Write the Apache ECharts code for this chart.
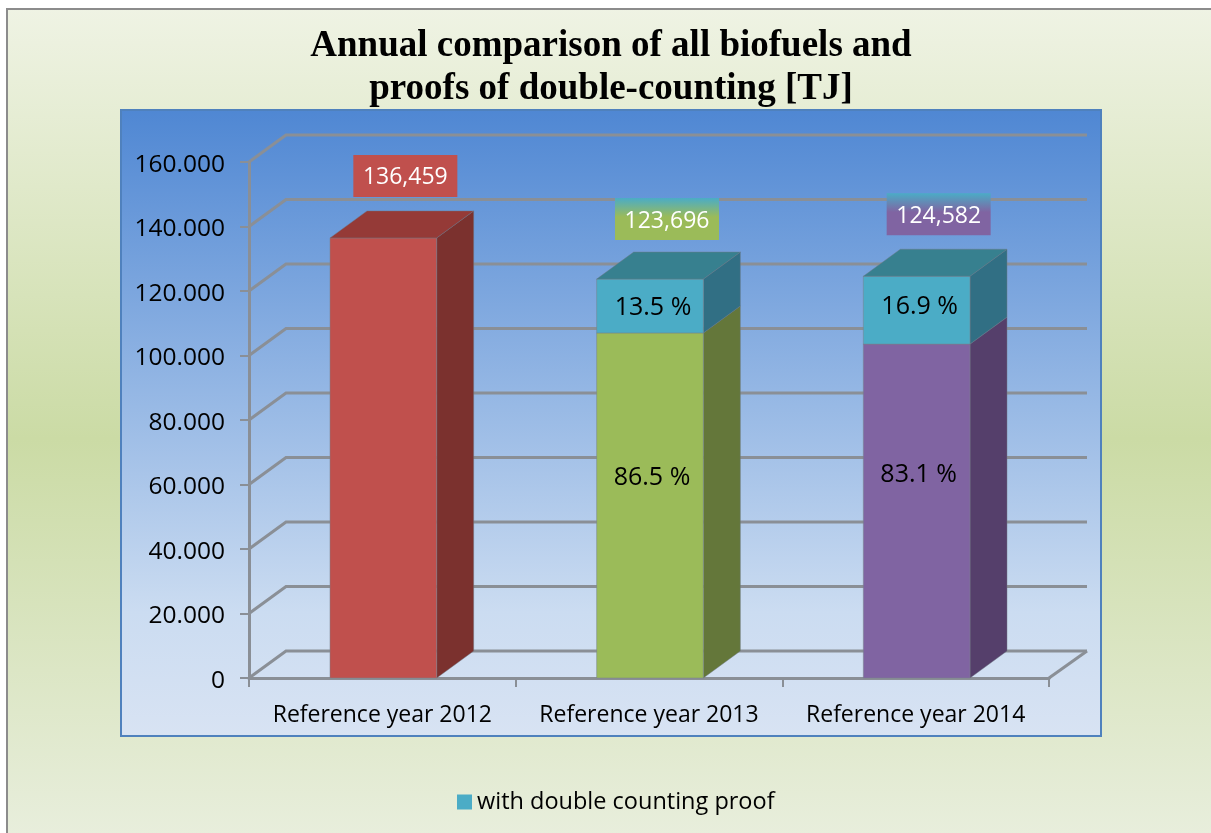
<!DOCTYPE html>
<html>
<head>
<meta charset="utf-8">
<style>
  html, body { margin: 0; padding: 0; }
  #chart { width: 1211px; height: 833px; }
</style>
<script src="https://cdn.jsdelivr.net/npm/echarts@6/dist/echarts.min.js"></script>
</head>
<body>
<div id="chart"></div>
<script>
const categories = ['Reference year 2012', 'Reference year 2013', 'Reference year 2014']
const withoutProof = [136459, 106997, 103528]
const withProof = [0, 16699, 21054]
const totalLabels = ['136,459', '123,696', '124,582']
const withoutLabels = ['', '86.5 %', '83.1 %']
const withLabels = ['', '13.5 %', '16.9 %']
const gridTicks = [0, 20000, 40000, 60000, 80000, 100000, 120000, 140000, 160000]

// faces of each column: front, side, top
const front = ['#c0504d', '#9bbb59', '#8064a2']
const side = ['#7b312e', '#64773a', '#553f6b']
const topFace = ['#953a37', '#37808f', '#37808f']
const teal = '#4bacc6'
const tealSide = '#316f84'

const depthX = 37
const depthY = -27
const font = 'Open Sans'

function vGrad(stops) {
  return new echarts.graphic.LinearGradient(0, 0, 0, 1, stops.map(c => ({ offset: c[0], color: c[1] })))
}

function box(x, y0, y1, w, col, sideCol, topCol) {
  const kids = [
    { type: 'polygon', shape: { points: [[x + w, y0], [x + w + depthX, y0 + depthY], [x + w + depthX, y1 + depthY], [x + w, y1]] },
      style: { fill: sideCol, stroke: 'rgba(110,120,130,0.45)', lineWidth: 1 } },
    { type: 'rect', shape: { x: x, y: y1, width: w, height: y0 - y1 },
      style: { fill: col, stroke: 'rgba(120,130,140,0.5)', lineWidth: 1 } }
  ]
  if (topCol) {
    kids.push({ type: 'polygon', shape: { points: [[x, y1], [x + depthX, y1 + depthY], [x + w + depthX, y1 + depthY], [x + w, y1]] },
      style: { fill: topCol, stroke: 'rgba(110,120,130,0.45)', lineWidth: 1 } })
  }
  return kids
}

function percentText(x, y, text) {
  return { type: 'text', z2: 20, style: { text: text, x: x, y: y + 2, fill: '#000', font: '25px "' + font + '"', align: 'center', verticalAlign: 'middle' } }
}

const totalFill = [
  '#c0504d',
  vGrad([[0, '#4bacc6'], [0.45, '#9bbb59'], [1, '#9bbb59']]),
  vGrad([[0, '#4bacc6'], [0.45, '#8064a2'], [1, '#8064a2']])
]

// hand-moved labels in the original
const lowerShift = [0, -30, -38]
const upperShift = [0, 0, -5]
const totalShiftX = [0, -5, 0]
const totalShiftY = [0, 2, 0]

function renderGrid(params, api) {
  const r = params.coordSys
  const p = api.coord([0, api.value(0)])
  const y = p[1]
  const x0 = r.x
  const x1 = r.x + r.width
  const kids = [{ type: 'polyline', shape: { points: [[x0, y], [x0 + depthX, y + depthY], [x1 + depthX + 1, y + depthY]] },
    style: { fill: null, stroke: '#8a8f96', lineWidth: 3 } }]
  if (api.value(0) === 0) {
    kids.push({ type: 'line', shape: { x1: x1, y1: y, x2: x1 + depthX + 1, y2: y + depthY }, style: { stroke: '#8a8f96', lineWidth: 3 } })
  }
  return { type: 'group', children: kids }
}

function renderLower(params, api) {
  const i = api.value(0)
  const w = api.size([1, 0])[0] * 0.4
  const c = api.coord([i, 0])
  const t = api.coord([i, api.value(1)])
  const x = c[0] - w / 2 + 1
  const kids = box(x, c[1], t[1], w, front[i], side[i], withProof[i] === 0 ? topFace[i] : null)
  if (withoutLabels[i]) kids.push(percentText(x + w / 2 + 2, (c[1] + t[1]) / 2 + lowerShift[i], withoutLabels[i]))
  return { type: 'group', children: kids }
}

function renderUpper(params, api) {
  const i = api.value(0)
  const w = api.size([1, 0])[0] * 0.4
  const b = api.coord([i, withoutProof[i]])
  const t = api.coord([i, withoutProof[i] + api.value(1)])
  const x = b[0] - w / 2 + 1
  const kids = api.value(1) > 0 ? box(x, b[1], t[1], w, teal, tealSide, topFace[i]) : []
  if (withLabels[i]) kids.push(percentText(x + w / 2 + 3, (b[1] + t[1]) / 2 + upperShift[i], withLabels[i]))
  // total label floats above the column
  const cx = x + w / 2 + 22 + totalShiftX[i]
  const cy = t[1] - 62 + totalShiftY[i]
  kids.push({ type: 'rect', z2: 20, shape: { x: cx - 52, y: cy - 21, width: 104, height: 42 }, style: { fill: totalFill[i] } })
  kids.push({ type: 'text', z2: 21, style: { text: totalLabels[i], x: cx, y: cy + 2, fill: '#fff', font: '23px "' + font + '"', align: 'center', verticalAlign: 'middle' } })
  return { type: 'group', children: kids }
}

const chart = echarts.init(document.getElementById('chart'))

const option = {
  animation: false,
  backgroundColor: '#fff',
  title: {
    text: 'Annual comparison of all biofuels and\nproofs of double-counting [TJ]',
    left: 606,
    top: 20,
    textAlign: 'center',
    textStyle: {
      color: '#000',
      fontFamily: 'Liberation Serif',
      fontWeight: 'bold',
      fontSize: 37,
      lineHeight: 43
    }
  },
  legend: {
    data: ['with double counting proof'],
    left: 452,
    top: 785,
    icon: 'rect',
    itemWidth: 15,
    itemHeight: 15,
    textStyle: { color: '#000', fontFamily: font, fontSize: 23.5 }
  },
  graphic: [
    {
      type: 'rect',
      z: -11,
      shape: { x: 7, y: 9, width: 1240, height: 860 },
      style: {
        fill: vGrad([[0, '#eff3e4'], [0.5, '#cbdba5'], [0.96, '#e8eedc'], [1, '#e8eedc']]),
        stroke: '#8c8c8c',
        lineWidth: 2
      }
    },
    {
      type: 'rect',
      z: -10,
      shape: { x: 121, y: 110, width: 980, height: 626 },
      style: {
        fill: vGrad([[0, '#4f87d3'], [0.5, '#9cbce6'], [0.8, '#cbdcf1'], [1, '#d8e3f3']]),
        stroke: '#4f81bd',
        lineWidth: 2
      }
    }
  ],
  grid: { left: 249, right: 162, top: 162, bottom: 155 },
  xAxis: {
    type: 'category',
    data: categories,
    axisLine: { lineStyle: { color: '#8a8f96', width: 3 } },
    axisTick: { show: true, length: 9, lineStyle: { color: '#8a8f96', width: 2 } },
    axisLabel: { interval: 0, margin: 26, color: '#000', fontFamily: font, fontSize: 23 }
  },
  yAxis: {
    type: 'value',
    min: 0,
    max: 160000,
    interval: 20000,
    axisLine: { show: true, lineStyle: { color: '#8a8f96', width: 3 } },
    axisTick: { show: true, length: 9, lineStyle: { color: '#8a8f96', width: 2 } },
    splitLine: { show: false },
    axisLabel: {
      margin: 24,
      color: '#000',
      formatter: v => '{n|' + (v === 0 ? '0' : (v / 1000) + '.000') + '}',
      rich: {
        n: { fontFamily: font, fontSize: 24.5, padding: [6, 0, 0, 0] }
      }
    }
  },
  series: [
    { type: 'custom', name: 'grid', silent: true, z: 1, data: gridTicks.map(v => [v]), renderItem: renderGrid, clip: false, encode: { y: 0 } },
    {
      type: 'custom',
      name: 'without double counting proof',
      z: 2,
      clip: false,
      data: withoutProof.map((v, i) => [i, v]),
      encode: { x: 0, y: 1 },
      itemStyle: { color: front[1] },
      renderItem: renderLower
    },
    {
      type: 'custom',
      name: 'with double counting proof',
      z: 3,
      clip: false,
      data: withProof.map((v, i) => [i, v]),
      encode: { x: 0, y: 1 },
      itemStyle: { color: teal },
      renderItem: renderUpper
    }
  ]
}

chart.setOption(option)
</script>
</body>
</html>
